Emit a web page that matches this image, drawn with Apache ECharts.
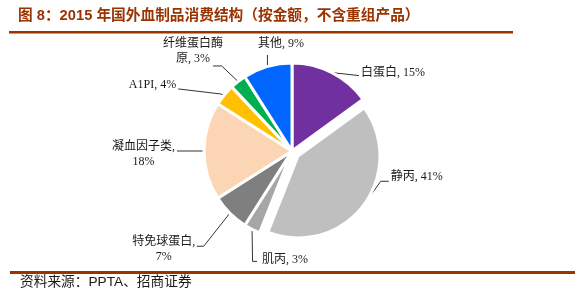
<!DOCTYPE html>
<html>
<head>
<meta charset="utf-8">
<script src="https://cdn.jsdelivr.net/npm/echarts@6/dist/echarts.min.js"></script>
<style>
html,body{margin:0;padding:0;background:#fff;}
#chart{width:586px;height:297px;}
</style>
</head>
<body>
<div id="chart"></div>
<script>
// ---- data ----
const categories = ['白蛋白', '静丙', '肌丙', '特免球蛋白', '凝血因子类', 'A1PI', '纤维蛋白酶原', '其他'];
const shares = [15, 41, 3, 7, 18, 4, 3, 9];
const titleText = '图 8：2015 年国外血制品消费结构（按金额，不含重组产品）';
const sourceText = '资料来源：PPTA、招商证券';

// ---- styles ----
const sliceColors = ['#7030A0', '#BFBFBF', '#A6A6A6', '#7F7F7F', '#FCD5B4', '#FFC000', '#00B050', '#0066FF'];
const explodedName = '静丙';
const labelFont = "'Liberation Serif','Noto Sans CJK SC'";
const labelTemplates = {
  '特免球蛋白': (n, v) => n + ',\n' + v + '%',
  '凝血因子类': (n, v) => n + ',\n' + v + '%',
  '纤维蛋白酶原': (n, v) => n.slice(0, 5) + '\n' + n.slice(5) + ', ' + v + '%'
};
// label placement relative to the leader line start point on the arc
const placement = {
  '白蛋白':     {lx: 29, ly: 0, align: 'left', pts: [[13.5, 1.5], [27, 3]]},
  '静丙':       {lx: 28, ly: -29, align: 'left', pts: [[18, -25], [26, -25]]},
  '肌丙':       {lx: 10, ly: 30.5, align: 'left', pts: [[0.5, 32], [5, 32]]},
  '特免球蛋白': {lx: -66, ly: 36, align: 'center', pts: [[-26, 33], [-33, 33]]},
  '凝血因子类': {lx: -60.5, ly: 3.5, align: 'center', pts: [[-13, 0], [-27, 0]]},
  'A1PI':       {lx: -48, ly: -10, align: 'right', pts: [[-4, -1], [-46, -6]]},
  '纤维蛋白酶原': {lx: -45, ly: -30.5, align: 'center', pts: [[-16.4, -15.5], [-25, -15.5]]},
  '其他':       {lx: -9.4, ly: -22.5, align: 'left', pts: [[0, -6], [0, -11.5]]}
};

const chart = echarts.init(document.getElementById('chart'), null, {renderer: 'canvas'});
const clear = 'rgba(0,0,0,0)';

function buildData(showExploded) {
  return categories.map((name, i) => {
    const visible = showExploded ? name === explodedName : name !== explodedName;
    return {
      name: name,
      value: shares[i],
      itemStyle: visible
        ? {color: sliceColors[i], borderColor: '#fff', borderWidth: 3}
        : {color: clear, borderColor: clear, borderWidth: 0},
      label: {show: visible},
      labelLine: {show: visible}
    };
  });
}

function layoutFn(p) {
  const cfg = placement[categories[p.dataIndex]];
  if (!cfg || !p.labelLinePoints) return {};
  const s = p.labelLinePoints[0];
  const pts = [[s[0], s[1]]].concat(cfg.pts.map(d => [s[0] + d[0], s[1] + d[1]]));
  return {
    x: s[0] + cfg.lx,
    y: s[1] + cfg.ly,
    align: cfg.align,
    verticalAlign: 'middle',
    labelLinePoints: pts
  };
}

const commonSeries = {
  type: 'pie',
  clockwise: true,
  startAngle: 90,
  avoidLabelOverlap: false,
  silent: true,
  animation: false,
  emphasis: {disabled: true},
  label: {
    show: true,
    position: 'outside',
    color: '#1a1a1a',
    fontSize: 12,
    lineHeight: 15,
    fontFamily: labelFont,
    formatter: p => (labelTemplates[p.name] ? labelTemplates[p.name](p.name, p.value) : p.name + ', ' + p.value + '%')
  },
  labelLine: {show: true, length: 5, length2: 10, lineStyle: {color: '#333', width: 1}},
  labelLayout: layoutFn
};

chart.setOption({
  backgroundColor: '#fff',
  animation: false,
  graphic: [
    {type: 'text', left: 18, top: 8.5, style: {text: titleText, fill: '#993300', font: "bold 14.7px 'Liberation Sans','Noto Sans CJK SC'"}},
    {type: 'rect', shape: {x: 9, y: 31, width: 504, height: 2.6}, style: {fill: '#993300'}},
    {type: 'rect', shape: {x: 10, y: 271, width: 565, height: 3}, style: {fill: '#993300'}},
    {type: 'text', left: 20, top: 275, style: {text: sourceText, fill: '#1a1a1a', font: "13.7px 'Liberation Sans','Noto Sans CJK SC'"}}
  ],
  series: [
    Object.assign({}, commonSeries, {center: [292, 151], radius: 88, data: buildData(false)}),
    Object.assign({}, commonSeries, {center: [298, 156], radius: 82, data: buildData(true)})
  ]
});
</script>
</body>
</html>
